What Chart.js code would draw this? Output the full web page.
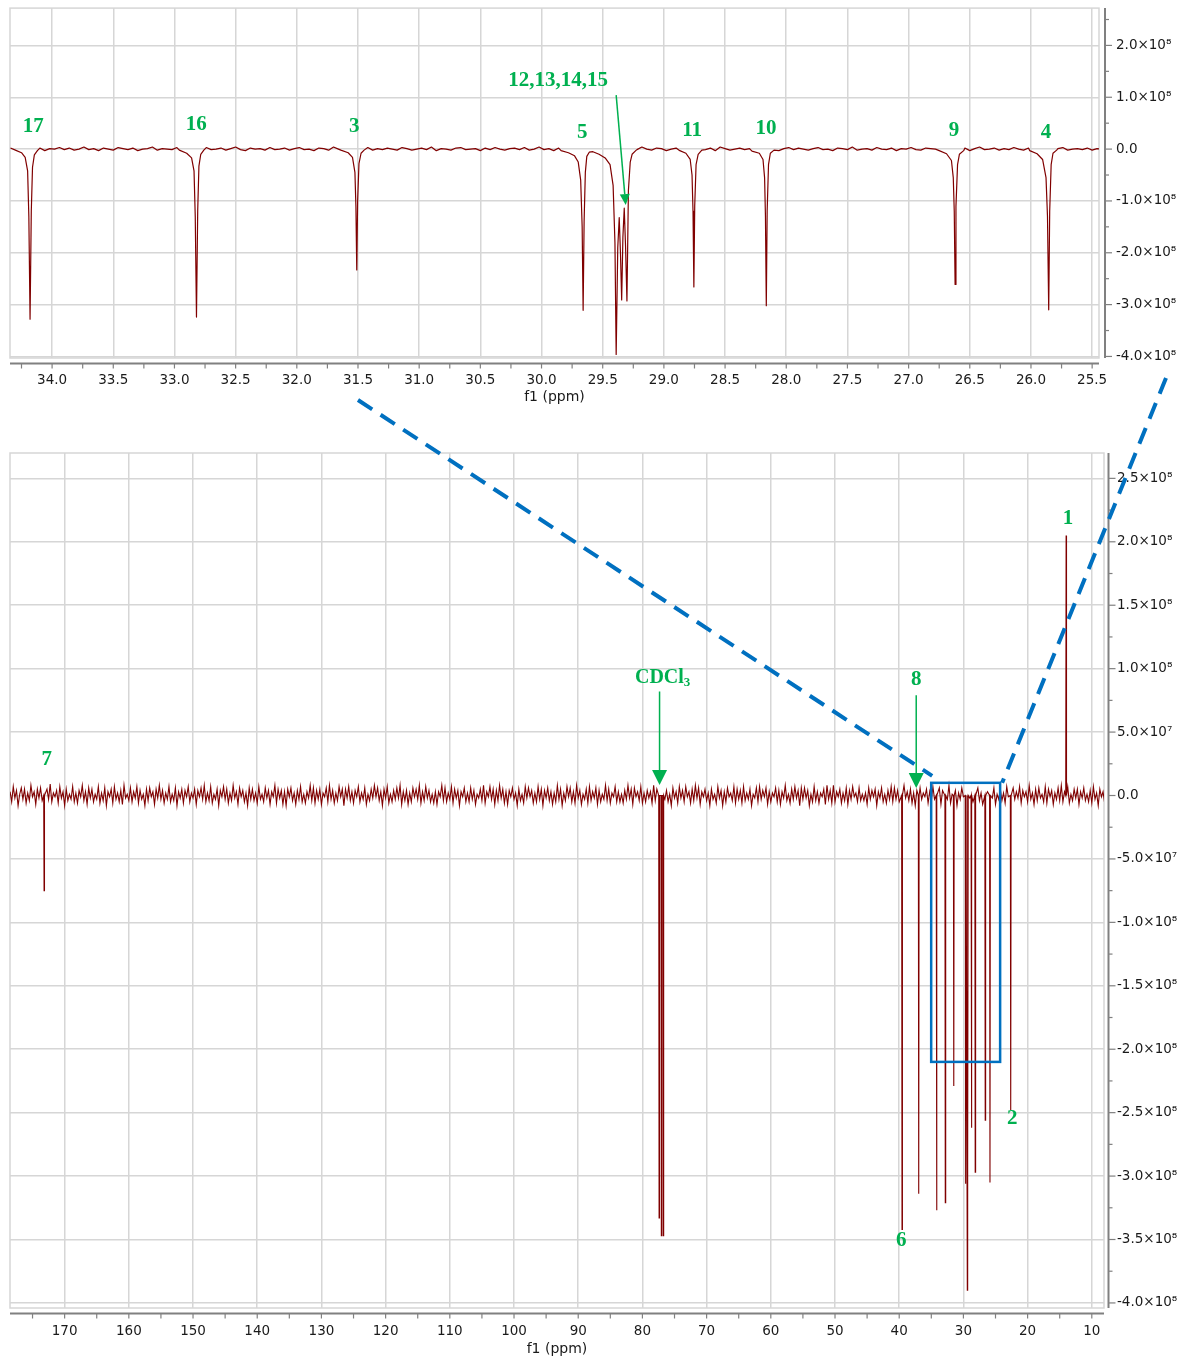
<!DOCTYPE html>
<html>
<head>
<meta charset="utf-8">
<script src="https://cdn.jsdelivr.net/npm/chart.js@4.4.1/dist/chart.umd.min.js"></script>
<style>
  body { margin: 0; background: #fff; overflow: hidden; }
  #wrap { position: relative; width: 1185px; height: 1362px; }
  canvas { position: absolute; left: 0; }
  #top { top: 0; }
  #bottom { top: 440px; }
  #over { top: 0; pointer-events: none; }
</style>
</head>
<body>
<div id="wrap">
  <canvas id="top" width="1185" height="410"></canvas>
  <canvas id="bottom" width="1185" height="922"></canvas>
  <canvas id="over" width="1185" height="1362"></canvas>
</div>
<script>
// ---------- zoomed region 34.3 - 25.4 ppm (top) ----------
// baseline noise, x1e6, one value every 0.04 ppm starting at 34.34
const topStart = 34.34, topStep = 0.04;
const topNoise = [
  2,-1,1,3,-2,0,2,-3,1,0,3,-1,2,-2,0,4,-1,1,-3,2,
  0,-2,3,1,-1,2,-3,0,1,4,-2,1,0,-1,3,-2,2,0,-3,1,
  3,-1,0,2,-2,1,4,-1,-3,2,0,1,-2,3,-1,0,2,-2,1,3,
  -1,0,-3,2,1,-2,4,0,-1,2,-3,1,0,3,-2,1,-1,2,0,-2,
  3,1,-2,0,2,-1,4,-3,1,0,-2,2,3,-1,0,1,-3,2,-1,3,
  0,-2,1,2,-1,3,-2,0,4,-1,1,-3,2,0,-1,3,1,-2,0,2,
  -3,1,2,-1,0,3,-2,1,-1,4,0,-2,2,1,-3,0,2,-1,3,-2,
  1,0,-1,2,-3,4,1,-2,0,2,-1,1,3,-2,0,-1,2,-3,1,3,
  -1,2,0,-2,1,3,-1,0,-3,2,1,-1,4,-2,0,1,-2,3,0,-1,
  2,-3,1,0,3,-1,-2,2,1,0,-1,3,-2,1,0,2,-3,1,4,-1,
  0,2,-2,1,-1,3,0,-2,2,1,-3,0,2,-1,1,3,-2,0,1,-1,
  2,-2,1,0
];
// peak profiles [ppm, intensity x1e8]
const peak17 = [[34.30,-0.02],[34.25,-0.07],[34.22,-0.16],[34.20,-0.42],[34.19,-1.3],[34.18,-3.28],[34.17,-1.2],[34.16,-0.35],[34.145,-0.11],[34.12,-0.03]];
const peak16 = [[32.96,-0.02],[32.90,-0.08],[32.86,-0.17],[32.84,-0.42],[32.83,-1.3],[32.82,-3.24],[32.81,-1.2],[32.80,-0.33],[32.785,-0.1],[32.76,-0.02]];
const peak3 = [[31.64,-0.02],[31.58,-0.07],[31.545,-0.16],[31.525,-0.45],[31.517,-1.1],[31.51,-2.33],[31.503,-1.0],[31.492,-0.28],[31.475,-0.08],[31.45,-0.02]];
const peak5 = [[29.84,-0.03],[29.78,-0.07],[29.73,-0.13],[29.70,-0.25],[29.68,-0.6],[29.668,-1.5],[29.66,-3.11],[29.652,-1.4],[29.642,-0.45],[29.63,-0.14],[29.61,-0.06]];
const peak12to15 = [[29.58,-0.05],[29.53,-0.1],[29.48,-0.17],[29.44,-0.3],[29.415,-0.7],[29.40,-1.8],[29.39,-3.96],[29.377,-1.9],[29.365,-1.32],[29.355,-2.0],[29.345,-2.91],[29.335,-1.7],[29.324,-1.14],[29.313,-1.9],[29.302,-2.93],[29.29,-0.8],[29.275,-0.25],[29.26,-0.1],[29.23,-0.03]];
const peak11 = [[28.87,-0.03],[28.82,-0.08],[28.785,-0.2],[28.77,-0.5],[28.762,-1.2],[28.755,-2.66],[28.748,-1.1],[28.737,-0.3],[28.72,-0.1],[28.69,-0.02]];
const peak10 = [[28.28,-0.04],[28.22,-0.08],[28.19,-0.2],[28.177,-0.55],[28.17,-1.3],[28.163,-3.02],[28.156,-1.2],[28.145,-0.3],[28.13,-0.08],[28.10,-0.02]];
const peak9 = [[26.75,-0.03],[26.69,-0.09],[26.65,-0.22],[26.635,-0.55],[26.627,-1.2],[26.62,-2.61],[26.613,-1.1],[26.60,-0.3],[26.585,-0.1],[26.55,-0.03]];
const peak4 = [[26.01,-0.03],[25.95,-0.09],[25.905,-0.2],[25.877,-0.55],[25.865,-1.3],[25.855,-3.10],[25.847,-1.2],[25.835,-0.3],[25.82,-0.08],[25.79,-0.02]];
const topPeaks = [peak17, peak16, peak3, peak5, peak12to15, peak11, peak10, peak9, peak4];

const topXMajor = [34.0,33.5,33.0,32.5,32.0,31.5,31.0,30.5,30.0,29.5,29.0,28.5,28.0,27.5,27.0,26.5,26.0,25.5];
const topXMinor = [34.25,33.75,33.25,32.75,32.25,31.75,31.25,30.75,30.25,29.75,29.25,28.75,28.25,27.75,27.25,26.75,26.25,25.75];
const topYMajor = [2e8,1e8,0,-1e8,-2e8,-3e8,-4e8];
const topYMinor = [2.5e8,1.5e8,0.5e8,-0.5e8,-1.5e8,-2.5e8,-3.5e8];

// [text, ppm, intensity]
const topLabels = [['17',34.153,0.443e8],['16',32.821,0.482e8],['3',31.53,0.443e8],['5',29.667,0.328e8],
  ['12,13,14,15',29.864,1.329e8],['11',28.769,0.366e8],['10',28.165,0.405e8],['9',26.629,0.366e8],['4',25.877,0.328e8]];
// [ppm from, intensity from, ppm tip, intensity tip]
const topArrows = [[29.39,1.04e8,29.312,-1.08e8]];

// ---------- full spectrum 178 - 8 ppm (bottom) ----------
// baseline noise, x1e6, one value every 0.25 ppm starting at 178.5
const botStart = 178.5, botStep = 0.25;
const botNoise = [
  3,-5,7,-2,4,-8,1,6,-3,5,-6,2,-4,8,-1,3,-7,5,-2,
  6,-4,1,-7,5,-3,9,-5,2,-1,4,-6,7,-2,3,-8,5,-4,1,
  -3,7,-5,2,-6,4,-1,8,-4,3,-7,6,-2,5,-5,1,-3,7,-6,
  2,-4,6,-8,3,-1,5,-6,7,-3,2,-5,4,-7,8,-2,1,-4,6,
  -5,3,-2,7,-6,4,-3,1,-8,5,-4,6,-1,3,-7,5,-2,8,-3,
  4,-6,2,-3,7,-5,1,-4,6,-8,3,-2,5,-6,4,-1,7,-5,2,
  -2,5,-7,4,-1,6,-3,8,-5,2,-4,7,-6,1,-3,5,-8,4,-1,
  7,-3,5,-6,2,-4,8,-2,3,-7,6,-1,4,-5,2,-8,6,-3,5,
  -4,2,-6,7,-3,1,-5,6,-2,4,-7,3,-1,8,-6,5,-2,4,-7,
  3,-8,5,-1,6,-4,2,-7,4,-3,7,-5,1,-6,3,-2,8,-4,6,
  -6,4,-3,5,-7,2,-1,6,-5,8,-3,4,-6,2,-4,7,-1,5,-8,
  5,-2,7,-4,3,-6,4,-1,7,-5,2,-3,6,-7,1,-4,5,-2,8,
  -1,6,-4,3,-8,5,-2,7,-6,1,-5,4,-3,6,-2,8,-7,3,-4,
  4,-7,2,-5,6,-1,5,-3,8,-6,3,-4,7,-2,4,-5,1,-6,3,
  -7,3,-1,8,-4,6,-5,2,-3,7,-6,5,-2,4,-8,3,-1,6,-5,
  2,-5,6,-3,4,-7,1,-2,5,-4,8,-6,3,-1,7,-3,5,-7,4,
  -4,8,-2,5,-6,3,-7,4,-1,6,-3,2,-8,5,-4,1,-6,7,-2,
  6,-1,4,-6,2,-5,7,-3,5,-8,4,-2,6,-4,3,-7,2,-5,8,
  -3,5,-8,2,-4,7,-1,6,-5,3,-6,8,-2,4,-7,1,-3,5,-6,
  7,-4,3,-2,6,-7,4,-5,1,-3,8,-4,5,-6,2,-1,7,-5,3,
  -5,1,-6,4,-3,8,-2,5,-7,6,-1,3,-4,7,-6,2,-5,4,-2,
  3,-6,8,-4,5,-1,2,-7,6,-3,4,-5,1,-8,6,-2,3,-6,7,
  -2,4,-5,7,-1,3,-6,5,-4,8,-2,6,-7,3,-1,5,-4,2,-8,
  5,-3,1,-6,7,-2,4,-8,3,-5,6,-1,2,-4,7,-6,5,-3,4,
  -6,7,-4,2,-3,5,-8,1,-2,6,-5,7,-3,4,-1,6,-7,3,-5,
  2,-1,6,-5,4,-7,3,-2,8,-4,1,-6,5,-3,7,-2,4,-8,6,
  -3,6,-2,4,-8,1,-5,7,-4,3,-6,2,-1,5,-7,8,-3,4,-6,
  8,-5,3,-1,5,-6,2,-4,6,-7,4,-3,7,-1,2,-5,6,-4,1,
  -4,2,-7,6,-3,4,-1,5,-8,3,-2,6,-5,1,-6,4,-3,7,-5,
  6,-3,4,-5,1,-7,8,-2,3,-4,5,-6,2,-8,4,-1,6,-3,2,
  -1,5,-6,3,-4,7,-3,2,-5,6,-7,4,-2,5,-3,8,-6,1,-4,
  4,-8,2,-3,6,-1,5,-6,3,-2,7,-5,4,-1,6,-4,2,-7,5,
  -5,3,-4,8,-2,6,-7,1,-3,5,-4,2,-6,7,-1,3,-5,6,-3,
  3,-2,7,-6,4,-1,3,-5,8,-3,2,-7,5,-4,6,-2,1,-5,7,
  -6,5,-1,4,-7,2,-3,6,-4,8,-5,3,-2,7,-6,1,-4,5,-2,
  5,-7,3,-2,6,-4,1,-5,4,-6,7,-3,2,-8,5,-1,3,-6,4
];
// [ppm, intensity x1e8]
const botPeaks = [[173.2,-0.75],[77.4,-3.33],[77.05,-3.47],[76.75,-3.47],[39.56,-3.42],[36.96,-3.14],
  [34.18,-3.27],[32.82,-3.21],[31.5,-2.29],[29.65,-3.06],[29.39,-3.9],[29.31,-2.9],[28.75,-2.62],
  [28.16,-2.97],[26.6,-2.56],[25.86,-3.05],[22.63,-2.48],[14.0,2.05]];

const botXMajor = [170,160,150,140,130,120,110,100,90,80,70,60,50,40,30,20,10];
const botXMinor = [175,165,155,145,135,125,115,105,95,85,75,65,55,45,35,25,15];
const botYMajor = [2.5e8,2e8,1.5e8,1e8,0.5e8,0,-0.5e8,-1e8,-1.5e8,-2e8,-2.5e8,-3e8,-3.5e8,-4e8];
const botYMinor = [2.25e8,1.75e8,1.25e8,0.75e8,0.25e8,-0.25e8,-0.75e8,-1.25e8,-1.75e8,-2.25e8,-2.75e8,-3.25e8,-3.75e8];

const botLabels = [['7',172.8,0.285e8],['1',13.7,2.18e8],['8',37.35,0.915e8],['6',39.69,-3.51e8],['2',22.4,-2.55e8]];
const botArrows = [[77.33,0.82e8,77.33,0.083e8],[37.35,0.79e8,37.35,0.06e8]];
const cdclLabel = [76.85, 0.93e8];
const zoomBox = [35.02, 24.28, 0.1e8, -2.1e8];

const GREEN = '#00b050', BLUE = '#0070c0', TRACE = '#800000', GRID = '#d6d6d6', AXIS = '#808080', TEXT = '#1a1a1a';
const tickFont = { family: 'DejaVu Sans', size: 13.5 };
const labelFont = 'bold 21px "Liberation Serif"';

function isIn(v, list) { return list.some(m => Math.abs(m - v) < 1e-6); }
function sci(v) {
  if (v === 0) return '0.0';
  if (Math.abs(v) < 1e8) return (v / 1e7).toFixed(1) + '×10⁷';
  return (v / 1e8).toFixed(1) + '×10⁸';
}

function buildTop() {
  const wins = topPeaks.map(p => [p[p.length - 1][0], p[0][0]]);
  const pts = [];
  topNoise.forEach((v, i) => {
    const x = +(topStart - i * topStep).toFixed(3);
    if (wins.some(w => x >= w[0] && x <= w[1])) return;
    pts.push({ x, y: v * 1e6 });
  });
  topPeaks.forEach(p => p.forEach(q => pts.push({ x: q[0], y: q[1] * 1e8 })));
  return pts.sort((a, b) => b.x - a.x);
}

function buildBottom() {
  const pts = [];
  botNoise.forEach((v, i) => {
    const x = +(botStart - i * botStep).toFixed(3);
    if (botPeaks.some(p => Math.abs(p[0] - x) < 0.2)) return;
    pts.push({ x, y: v * 1e6 });
  });
  botPeaks.forEach(p => {
    pts.push({ x: p[0] + 0.06, y: 0 }, { x: p[0], y: p[1] * 1e8 }, { x: p[0] - 0.06, y: 0 });
  });
  return pts.sort((a, b) => b.x - a.x);
}

function arrow(ctx, x1, y1, x2, y2, hl, hw) {
  const dx = x2 - x1, dy = y2 - y1, len = Math.hypot(dx, dy);
  const ux = dx / len, uy = dy / len;
  const bx = x2 - ux * hl, by = y2 - uy * hl;
  ctx.beginPath(); ctx.moveTo(x1, y1); ctx.lineTo(bx, by); ctx.stroke();
  ctx.beginPath();
  ctx.moveTo(x2, y2);
  ctx.lineTo(bx - uy * hw / 2, by + ux * hw / 2);
  ctx.lineTo(bx + uy * hw / 2, by - ux * hw / 2);
  ctx.closePath(); ctx.fill();
}

function deco(o) {
  return {
    id: 'deco',
    beforeDatasetsDraw(chart) {
      const { ctx, chartArea: a } = chart;
      ctx.save();
      ctx.strokeStyle = GRID; ctx.lineWidth = 1.5;
      ctx.strokeRect(a.left, a.top, a.right - a.left, a.bottom - a.top);
      ctx.restore();
    },
    afterDatasetsDraw(chart) {
      const { ctx, chartArea: a, scales: { x, y } } = chart;
      ctx.save();
      // axis lines with their ticks, set off from the plot frame
      const ay = a.bottom + o.gapX;
      ctx.strokeStyle = AXIS; ctx.lineWidth = 2;
      ctx.beginPath(); ctx.moveTo(a.left, ay); ctx.lineTo(a.right, ay); ctx.stroke();
      ctx.lineWidth = 1.2;
      x.ticks.forEach(t => {
        const px = x.getPixelForValue(t.value);
        ctx.beginPath(); ctx.moveTo(px, ay); ctx.lineTo(px, ay + 5); ctx.stroke();
      });
      const ax = a.right + o.gapY;
      ctx.lineWidth = 2;
      ctx.beginPath(); ctx.moveTo(ax, a.top); ctx.lineTo(ax, a.bottom); ctx.stroke();
      ctx.lineWidth = 1.2;
      y.ticks.forEach(t => {
        const py = y.getPixelForValue(t.value);
        const len = isIn(t.value, o.yMajor) ? 7 : 4;
        ctx.beginPath(); ctx.moveTo(ax, py); ctx.lineTo(ax + len, py); ctx.stroke();
      });
      // zoom box
      if (o.box) {
        ctx.strokeStyle = BLUE; ctx.lineWidth = 2.5;
        const l = x.getPixelForValue(o.box[0]), r = x.getPixelForValue(o.box[1]);
        const t = y.getPixelForValue(o.box[2]), b = y.getPixelForValue(o.box[3]);
        ctx.strokeRect(l, t, r - l, b - t);
      }
      // arrows
      ctx.strokeStyle = GREEN; ctx.fillStyle = GREEN; ctx.lineWidth = 1.5;
      o.arrows.forEach(ar => {
        arrow(ctx, x.getPixelForValue(ar[0]), y.getPixelForValue(ar[1]),
          x.getPixelForValue(ar[2]), y.getPixelForValue(ar[3]), o.headLen, o.headW);
      });
      // labels
      ctx.font = labelFont; ctx.textAlign = 'center'; ctx.textBaseline = 'middle';
      o.labels.forEach(lb => ctx.fillText(lb[0], x.getPixelForValue(lb[1]), y.getPixelForValue(lb[2])));
      if (o.cdcl) {
        const cx = x.getPixelForValue(o.cdcl[0]), cy = y.getPixelForValue(o.cdcl[1]);
        ctx.font = 'bold 20px "Liberation Serif"';
        const w1 = ctx.measureText('CDCl').width;
        ctx.font = 'bold 13px "Liberation Serif"';
        const w2 = ctx.measureText('3').width;
        const x0 = cx - (w1 + w2) / 2;
        ctx.textAlign = 'left';
        ctx.font = 'bold 20px "Liberation Serif"';
        ctx.fillText('CDCl', x0, cy);
        ctx.font = 'bold 13px "Liberation Serif"';
        ctx.fillText('3', x0 + w1, cy + 5);
      }
      ctx.restore();
    }
  };
}

function xScale(min, max, major, minor, fmt, pad, height) {
  return {
    type: 'linear', reverse: true, min, max,
    afterFit: s => { s.height = height; },
    afterBuildTicks: s => { s.ticks = major.concat(minor).sort((a, b) => b - a).map(v => ({ value: v })); },
    border: { display: false },
    grid: { color: c => (c.tick && isIn(c.tick.value, major)) ? GRID : 'rgba(0,0,0,0)', lineWidth: 1.5, drawTicks: false },
    ticks: { autoSkip: false, maxRotation: 0, padding: pad, font: tickFont, color: TEXT,
      callback: v => isIn(v, major) ? fmt(v) : '' },
    title: { display: true, text: 'f1 (ppm)', font: { family: 'DejaVu Sans', size: 14 }, color: TEXT, padding: { top: 4, bottom: 4 } }
  };
}

// label offset comes from an invisible tick length so it does not push the plot top down
function yScale(min, max, major, minor, pad, width) {
  return {
    position: 'right', min, max,
    afterFit: s => { s.width = width; },
    afterBuildTicks: s => { s.ticks = major.concat(minor).sort((a, b) => a - b).map(v => ({ value: v })); },
    border: { display: false },
    grid: { color: c => (c.tick && isIn(c.tick.value, major)) ? GRID : 'rgba(0,0,0,0)', lineWidth: 1.5,
      drawTicks: true, tickLength: pad, tickColor: 'rgba(0,0,0,0)' },
    ticks: { autoSkip: false, padding: 0, font: tickFont, color: TEXT,
      callback: v => isIn(v, major) ? sci(v) : '' }
  };
}

const topChart = new Chart(document.getElementById('top'), {
  type: 'line',
  data: { datasets: [{ data: buildTop(), borderColor: TRACE, borderWidth: 1.2, pointRadius: 0, tension: 0, borderJoinStyle: 'round' }] },
  options: {
    responsive: false, animation: false, events: [],
    layout: { padding: { top: 8, left: 10, right: 0, bottom: 0 } },
    plugins: { legend: { display: false }, tooltip: { enabled: false } },
    scales: {
      x: xScale(25.444, 34.344, topXMajor, topXMinor, v => v.toFixed(1), 14, 52),
      y: yScale(-4.03e8, 2.72e8, topYMajor, topYMinor, 17, 86)
    }
  },
  plugins: [deco({ gapX: 5.5, gapY: 6, yMajor: topYMajor, arrows: topArrows, labels: topLabels, headLen: 11, headW: 10 })]
});

const bottomChart = new Chart(document.getElementById('bottom'), {
  type: 'line',
  data: { datasets: [{ data: buildBottom(), borderColor: TRACE, borderWidth: 1.1, pointRadius: 0, tension: 0 }] },
  options: {
    responsive: false, animation: false, events: [],
    layout: { padding: { top: 13, left: 10, right: 0, bottom: 0 } },
    plugins: { legend: { display: false }, tooltip: { enabled: false } },
    scales: {
      x: xScale(8.1, 178.51, botXMajor, botXMinor, v => String(v), 15, 54),
      y: yScale(-4.04e8, 2.70e8, botYMajor, botYMinor, 13, 81)
    }
  },
  plugins: [deco({ gapX: 5.5, gapY: 4.5, yMajor: botYMajor, arrows: botArrows, labels: botLabels, cdcl: cdclLabel, box: zoomBox, headLen: 15, headW: 15 })]
});

// dashed guide lines linking the zoom box to the upper chart
(function () {
  const ctx = document.getElementById('over').getContext('2d');
  const ta = topChart.chartArea, tx = topChart.scales.x;
  const bx = bottomChart.scales.x, by = bottomChart.scales.y, off = 440;
  const l = bx.getPixelForValue(zoomBox[0]), r = bx.getPixelForValue(zoomBox[1]);
  const t = by.getPixelForValue(zoomBox[2]) + off;
  ctx.strokeStyle = BLUE; ctx.lineWidth = 4; ctx.setLineDash([17, 10]);
  ctx.beginPath();
  ctx.moveTo(tx.getPixelForValue(31.5), ta.bottom + 42);
  ctx.lineTo(l + 1, t - 7);
  ctx.stroke();
  ctx.beginPath();
  ctx.moveTo(ta.right + 67, ta.bottom + 20);
  ctx.lineTo(r + 2, t);
  ctx.stroke();
})();
</script>
</body>
</html>
